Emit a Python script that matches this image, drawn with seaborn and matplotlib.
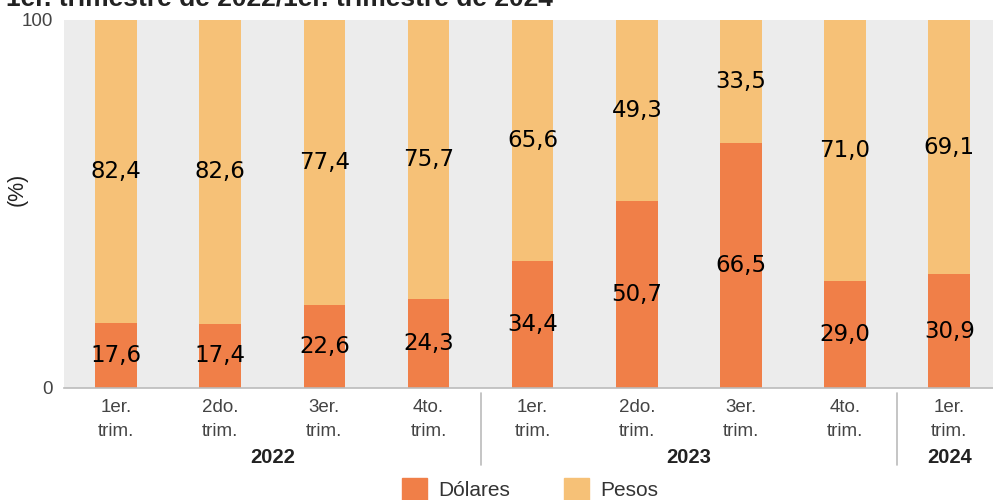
import matplotlib
matplotlib.use('Agg')
import matplotlib.pyplot as plt
import matplotlib.patches as mpatches
import numpy as np
import pandas as pd
import seaborn as sns

sns.set_theme(style="white")
plt.rcParams['font.family'] = ['Liberation Sans', 'DejaVu Sans']

# data
quarters = ['1er.\ntrim.', '2do.\ntrim.', '3er.\ntrim.', '4to.\ntrim.',
            '1er.\ntrim.', '2do.\ntrim.', '3er.\ntrim.', '4to.\ntrim.',
            '1er.\ntrim.']
years = ['2022', '2022', '2022', '2022', '2023', '2023', '2023', '2023', '2024']
dolares = [17.6, 17.4, 22.6, 24.3, 34.4, 50.7, 66.5, 29.0, 30.9]
pesos = [82.4, 82.6, 77.4, 75.7, 65.6, 49.3, 33.5, 71.0, 69.1]
title = '1er. trimestre de 2022/1er. trimestre de 2024'

c_dol = '#f07f48'
c_pes = '#f6c177'
txt_gray = '#444444'

df = pd.DataFrame({'pos': range(len(dolares)), 'dolares': dolares, 'pesos': pesos})
df['total'] = df['dolares'] + df['pesos']

fig = plt.figure(figsize=(9.93, 5.0), dpi=100)
ax = fig.add_axes([64 / 993, 1 - 388 / 500, 1 - 64 / 993, 368 / 500])
ax.set_facecolor('#ececec')

sns.barplot(data=df, x='pos', y='total', color=c_pes, width=0.4, ax=ax,
            saturation=1, linewidth=0, native_scale=True)
sns.barplot(data=df, x='pos', y='dolares', color=c_dol, width=0.4, ax=ax,
            saturation=1, linewidth=0, native_scale=True)

ax.set_xlim(-0.5, 8.42)
ax.set_ylim(0, 100)

lab_font = dict(family=['DejaVu Sans'], fontsize=16.5, color='black',
                ha='center', va='center')
for i, (d, p) in enumerate(zip(dolares, pesos)):
    ax.text(i, d / 2, f'{d:.1f}'.replace('.', ','), **lab_font)
    ax.text(i, d + p / 2, f'{p:.1f}'.replace('.', ','), **lab_font)

for s in ['top', 'right', 'left']:
    ax.spines[s].set_visible(False)
ax.spines['bottom'].set_color('#bbbbbb')
ax.spines['bottom'].set_linewidth(1.2)

ax.set_xticks(range(len(quarters)))
ax.set_xticklabels(quarters, fontsize=13.5, color=txt_gray, linespacing=1.5)
ax.set_yticks([0, 100])
ax.set_yticklabels(['0', '100'], fontsize=13.5, color=txt_gray)
ax.tick_params(axis='x', length=0, pad=8)
ax.tick_params(axis='y', length=0, pad=8)
ax.set_xlabel('')
ax.set_ylabel('(%)', fontsize=15.5, color='#222222')
ax.yaxis.set_label_coords(-0.039, 0.54)

# year groups
for xs in [3.5, 7.5]:
    ax.plot([xs, xs], [-0.014, -0.21], color='#bbbbbb', lw=1.2,
            transform=ax.get_xaxis_transform(), clip_on=False)
groups = {}
for i, y in enumerate(years):
    groups.setdefault(y, []).append(i)
for y, idx in groups.items():
    ax.text(np.mean(idx), -0.19, y, transform=ax.get_xaxis_transform(),
            ha='center', va='center', fontsize=14.5, fontweight='bold', color='#222222')

handles = [mpatches.Patch(color=c_dol, label='Dólares'),
           mpatches.Patch(color=c_pes, label='Pesos')]
fig.legend(handles=handles, loc='center', bbox_to_anchor=(0.534, 0.022), ncol=2,
           frameon=False, fontsize=15, handlelength=1.2, handleheight=1.2,
           columnspacing=2.6, handletextpad=0.55, labelcolor='#333333')

# the title sits mostly above the top edge, as in the reference
fig.text(0.006, 0.99, title, fontsize=19, fontweight='bold', color='#222222',
         ha='left', va='baseline')

fig.savefig('out.png', dpi=100)
